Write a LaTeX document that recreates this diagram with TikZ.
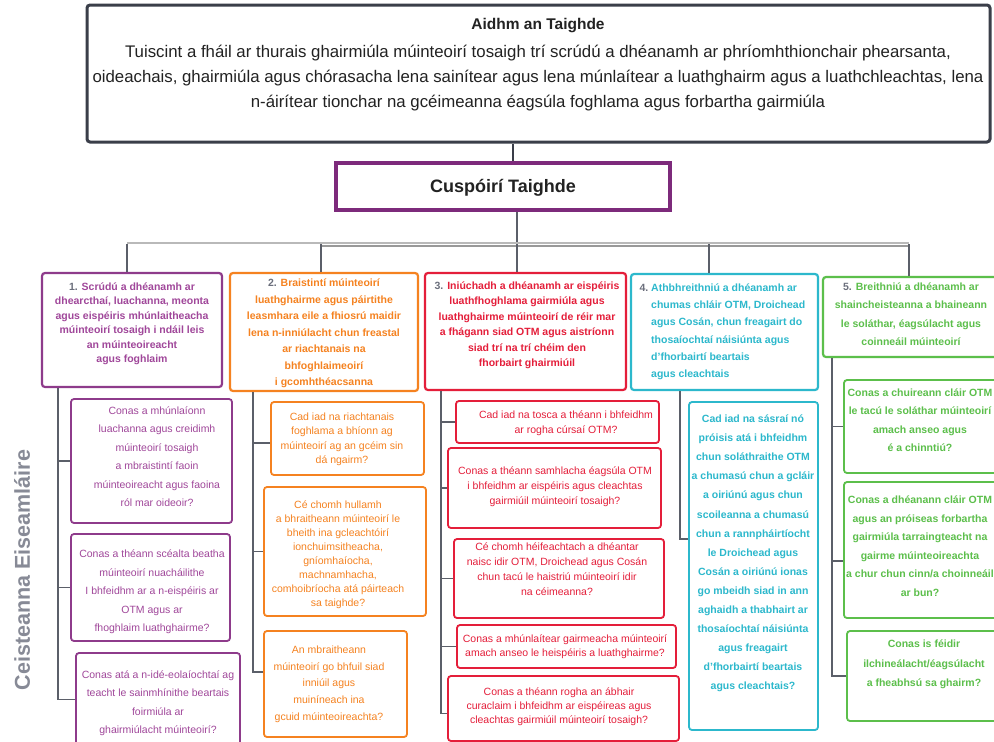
\documentclass[tikz,border=0pt]{standalone}
\usepackage{fontspec}
\setmainfont{Liberation Sans}
\usetikzlibrary{fit}

\definecolor{cpurple}{HTML}{A0479A}
\definecolor{cpurpleb}{HTML}{8E3B8B}
\definecolor{corange}{HTML}{F58220}
\definecolor{cred}{HTML}{E41E3A}
\definecolor{ccyan}{HTML}{2CB8CC}
\definecolor{cgreen}{HTML}{5CBF4B}
\definecolor{cgray}{HTML}{6B6F7C}
\definecolor{cline}{HTML}{5B5F69}
\definecolor{cdark}{HTML}{3A3E49}
\definecolor{cmag}{HTML}{7D2A7B}
\definecolor{clabel}{HTML}{878A96}
\definecolor{ctext}{HTML}{222222}

% stacked lines: [alignment]{size}{line spacing}{lines}
\newcommand\txt[4][c]{{\fontsize{#2}{#3}\selectfont\begin{tabular}[t]{@{}#1@{}}#4\end{tabular}}}
\newcommand\numlbl[1]{\textcolor{cgray}{#1}}

\tikzset{
  conn/.style={draw=cline, line width=1.5pt},
  obox/.style={draw=#1, line width=2.2pt, rounded corners=3pt, fill=white, inner sep=0pt},
  qbox/.style={draw=#1, line width=1.8pt, rounded corners=3pt, fill=white, inner sep=0pt},
  lbl/.style={inner sep=0pt, anchor=base, text=#1},
}

\begin{document}
\begin{tikzpicture}[x=1pt,y=-1pt]
\useasboundingbox (0,0) rectangle (994,742);
\fill[white] (0,0) rectangle (994,742);
\clip (0,0) rectangle (994,742);

% ---- aim ----
\node[draw=cdark, line width=3pt, rounded corners=3pt, fill=white, inner sep=0pt,
      fit={(87,5) (990,142)}] (top) {};
\node[lbl=ctext, font=\bfseries\fontsize{15.5}{18}\selectfont] (title) at (538,29) {Aidhm an Taighde};
\node[lbl=ctext] (aim) at (538,57.5) {\txt{16.8}{25}{Tuiscint a fháil ar thurais ghairmiúla múinteoirí tosaigh trí scrúdú a dhéanamh ar phríomhthionchair phearsanta,\\
oideachais, ghairmiúla agus chórasacha lena sainítear agus lena múnlaítear a luathghairm agus a luathchleachtas, lena\\
n-áirítear tionchar na gcéimeanna éagsúla foghlama agus forbartha gairmiúla}};

% ---- objectives header ----
\node[draw=cmag, line width=4pt, fill=white, inner sep=0pt, fit={(336,163) (670,210)}] (cusp) {};
\node[lbl=ctext, font=\bfseries\fontsize{18}{20}\selectfont] (cusplbl) at (503,192.5) {Cuspóirí Taighde};

% ---- objective boxes ----
\node[obox=cpurpleb, fit={(42,273) (222,387)}] (o1) {};
\node[lbl=cpurple, font=\bfseries] (o1t) at (132,290.5) {\txt{10.5}{14.4}{\numlbl{1.} Scrúdú a dhéanamh ar\\dhearcthaí, luachanna, meonta\\agus eispéiris mhúnlaitheacha\\múinteoirí tosaigh i ndáil leis\\an múinteoireacht\\agus foghlaim}};

\node[obox=corange, fit={(230,273) (418,391)}] (o2) {};
\node[lbl=corange, font=\bfseries] (o2t) at (324,286.5) {\txt{10.5}{16.5}{\numlbl{2.} Braistintí múinteoirí\\luathghairme agus páirtithe\\leasmhara eile a fhiosrú maidir\\lena n-inniúlacht chun freastal\\ar riachtanais na\\bhfoghlaimeoirí\\i gcomhthéacsanna}};

\node[obox=cred, fit={(425,273) (626,390)}] (o3) {};
\node[lbl=cred, font=\bfseries] (o3t) at (527,289.5) {\txt{10.5}{15.4}{\numlbl{3.} Iniúchadh a dhéanamh ar eispéiris\\luathfhoghlama gairmiúla agus\\luathghairme múinteoirí de réir mar\\a fhágann siad OTM agus aistríonn\\siad trí na trí chéim den\\fhorbairt ghairmiúil}};

\node[obox=ccyan, fit={(631,274) (818,390)}] (o4) {};
\node[inner sep=0pt, anchor=base west, text=ccyan, font=\bfseries] (o4t) at (651,291.5) {\txt[l]{10.5}{17.2}{\llap{\numlbl{4.}\ }Athbhreithniú a dhéanamh ar\\chumas chláir OTM, Droichead\\agus Cosán, chun freagairt do\\thosaíochtaí náisiúnta agus\\d'fhorbairtí beartais\\agus cleachtais}};

\node[obox=cgreen, fit={(823,277) (1000,357)}] (o5) {};
\node[lbl=cgreen, font=\bfseries] (o5t) at (911,290.5) {\txt{10.5}{18.3}{\numlbl{5.} Breithniú a dhéanamh ar\\shaincheisteanna a bhaineann\\le soláthar, éagsúlacht agus\\coinneáil múinteoirí}};

% ---- question boxes: column 1 ----
\node[qbox=cpurpleb, fit={(71,399) (232,523)}] (q1a) {};
\node[lbl=cpurple] at (157,414.5) {\txt{10.5}{18.4}{Conas a mhúnlaíonn\\luachanna agus creidimh\\múinteoirí tosaigh\\a mbraistintí faoin\\múinteoireacht agus faoina\\ról mar oideoir?}};
\node[qbox=cpurpleb, fit={(71,534) (230,641)}] (q1b) {};
\node[lbl=cpurple] at (152,557.5) {\txt{10.5}{18.5}{Conas a théann scéalta beatha\\múinteoirí nuacháilithe\\I bhfeidhm ar a n-eispéiris ar\\OTM agus ar\\fhoghlaim luathghairme?}};
\node[qbox=cpurpleb, fit={(76,653) (240,746)}] (q1c) {};
\node[lbl=cpurple] at (158,678.5) {\txt{10.5}{18.3}{Conas atá a n-idé-eolaíochtaí ag\\teacht le sainmhínithe beartais\\foirmiúla ar\\ghairmiúlacht múinteoirí?}};

% ---- column 2 ----
\node[qbox=corange, fit={(271,402) (424,475)}] (q2a) {};
\node[lbl=corange] at (342,420.5) {\txt{10.5}{14.3}{Cad iad na riachtanais\\foghlama a bhíonn ag\\múinteoirí ag an gcéim sin\\dá ngairm?}};
\node[qbox=corange, fit={(264,487) (426,616)}] (q2b) {};
\node[lbl=corange] at (338,508.5) {\txt{10.5}{14}{Cé chomh hullamh\\a bhraitheann múinteoirí le\\bheith ina gcleachtóirí\\ionchuimsitheacha,\\gníomhaíocha,\\machnamhacha,\\comhoibríocha atá páirteach\\sa taighde?}};
\node[qbox=corange, fit={(264,631) (407,737)}] (q2c) {};
\node[lbl=corange] at (329,653.5) {\txt{10.5}{16.7}{An mbraitheann\\múinteoirí go bhfuil siad\\inniúil agus\\muiníneach ina\\gcuid múinteoireachta?}};

% ---- column 3 ----
\node[qbox=cred, fit={(456,401) (659,443)}] (q3a) {};
\node[lbl=cred] at (566,418.5) {\txt{10.5}{15}{Cad iad na tosca a théann i bhfeidhm\\ar rogha cúrsaí OTM?}};
\node[qbox=cred, fit={(448,448) (661,528)}] (q3b) {};
\node[lbl=cred] at (555,474.5) {\txt{10.5}{15}{Conas a théann samhlacha éagsúla OTM\\i bhfeidhm ar eispéiris agus cleachtas\\gairmiúil múinteoirí tosaigh?}};
\node[qbox=cred, fit={(454,539) (664,618)}] (q3c) {};
\node[lbl=cred] at (557,550.5) {\txt{10.5}{15}{Cé chomh héifeachtach a dhéantar\\naisc idir OTM, Droichead agus Cosán\\chun tacú le haistriú múinteoirí idir\\na céimeanna?}};
\node[qbox=cred, fit={(457,625) (676,668)}] (q3d) {};
\node[lbl=cred] at (565,642.5) {\txt{10.5}{14}{Conas a mhúnlaítear gairmeacha múinteoirí\\amach anseo le heispéiris a luathghairme?}};
\node[qbox=cred, fit={(448,676) (679,741)}] (q3e) {};
\node[lbl=cred] at (559,695.5) {\txt{10.5}{14}{Conas a théann rogha an ábhair\\curaclaim i bhfeidhm ar eispéireas agus\\cleachtas gairmiúil múinteoirí tosaigh?}};

% ---- column 4 ----
\node[qbox=ccyan, fit={(689,402) (818,730)}] (q4) {};
\node[lbl=ccyan, font=\bfseries] at (753,422.5) {\txt{10.5}{19.1}{Cad iad na sásraí nó\\próisis atá i bhfeidhm\\chun soláthraithe OTM\\a chumasú chun a gcláir\\a oiriúnú agus chun\\scoileanna a chumasú\\chun a rannpháirtíocht\\le Droichead agus\\Cosán a oiriúnú ionas\\go mbeidh siad in ann\\aghaidh a thabhairt ar\\thosaíochtaí náisiúnta\\agus freagairt\\d'fhorbairtí beartais\\agus cleachtais?}};

% ---- column 5 ----
\node[qbox=cgreen, fit={(844,380) (1000,473)}] (q5a) {};
\node[lbl=cgreen, font=\bfseries] at (920,396.5) {\txt{10.5}{18.3}{Conas a chuireann cláir OTM\\le tacú le soláthar múinteoirí\\amach anseo agus\\é a chinntiú?}};
\node[qbox=cgreen, fit={(844,482) (1000,618)}] (q5b) {};
\node[lbl=cgreen, font=\bfseries] at (920,503.5) {\txt{10.5}{18.6}{Conas a dhéanann cláir OTM\\agus an próiseas forbartha\\gairmiúla tarraingteacht na\\gairme múinteoireachta\\a chur chun cinn/a choinneáil\\ar bun?}};
\node[qbox=cgreen, fit={(847,631) (1000,721)}] (q5c) {};
\node[lbl=cgreen, font=\bfseries] at (924,647.5) {\txt{10.5}{19.5}{Conas is féidir\\ilchineálacht/éagsúlacht\\a fheabhsú sa ghairm?}};

% ---- side label ----
\node[rotate=90, text=clabel, font=\bfseries\fontsize{21.5}{24}\selectfont, inner sep=0pt] (side) at (22,570) {Ceisteanna Eiseamláire};

% ---- connectors: aim -> objectives -> objective boxes ----
\draw[draw=cdark, line width=2.5pt] ([xshift=10pt]cusp.north) -- ([xshift=10pt]cusp.north |- top.south);
\coordinate (d1) at (127,244);
\coordinate (d2) at (321,244);
\coordinate (d3) at (517,244);
\coordinate (d4) at (709,244);
\coordinate (d5) at (909,244);
\draw[conn] ([xshift=14pt]cusp.south) -- ([xshift=14pt]cusp.south |- d3);
\draw[conn, draw=gray!55, line width=2pt] ([yshift=1pt]d1) -- ([yshift=1pt]d5);
\draw[conn, draw=gray!80, line width=2pt] ([yshift=-1.5pt]d2) -- ([yshift=-1.5pt]d5);
\foreach \i in {1,...,5} { \draw[conn] (d\i) -- (d\i |- o\i.north); }

% ---- connectors: objectives -> questions ----
\coordinate (t1) at (58,0);
\coordinate (t2) at (253,0);
\coordinate (t3) at (441,0);
\coordinate (t4) at (680,0);
\coordinate (t5) at (832,0);
\draw[conn] (o1.south -| t1) |- (q1a.west);
\draw[conn] (o1.south -| t1) |- (q1b.west);
\draw[conn] (o1.south -| t1) |- (q1c.west);
\draw[conn] (o2.south -| t2) |- ([yshift=-4.5pt]q2a.west);
\draw[conn] (o2.south -| t2) |- (q2b.west);
\draw[conn] (o2.south -| t2) |- ([yshift=12pt]q2c.west);
\draw[conn] (o3.south -| t3) |- (q3a.west);
\draw[conn] (o3.south -| t3) |- (q3b.west);
\draw[conn] (o3.south -| t3) |- (q3c.west);
\draw[conn] (o3.south -| t3) |- (q3d.west);
\draw[conn] (o3.south -| t3) |- ([yshift=-5pt]q3e.west);
\draw[conn] (o4.south -| t4) |- ([yshift=27pt]q4.west);
\draw[conn] (o5.south -| t5) |- (q5a.west);
\draw[conn] (o5.south -| t5) |- ([yshift=-11pt]q5b.west);
\draw[conn] (o5.south -| t5) |- (q5c.west);
\end{tikzpicture}
\end{document}
